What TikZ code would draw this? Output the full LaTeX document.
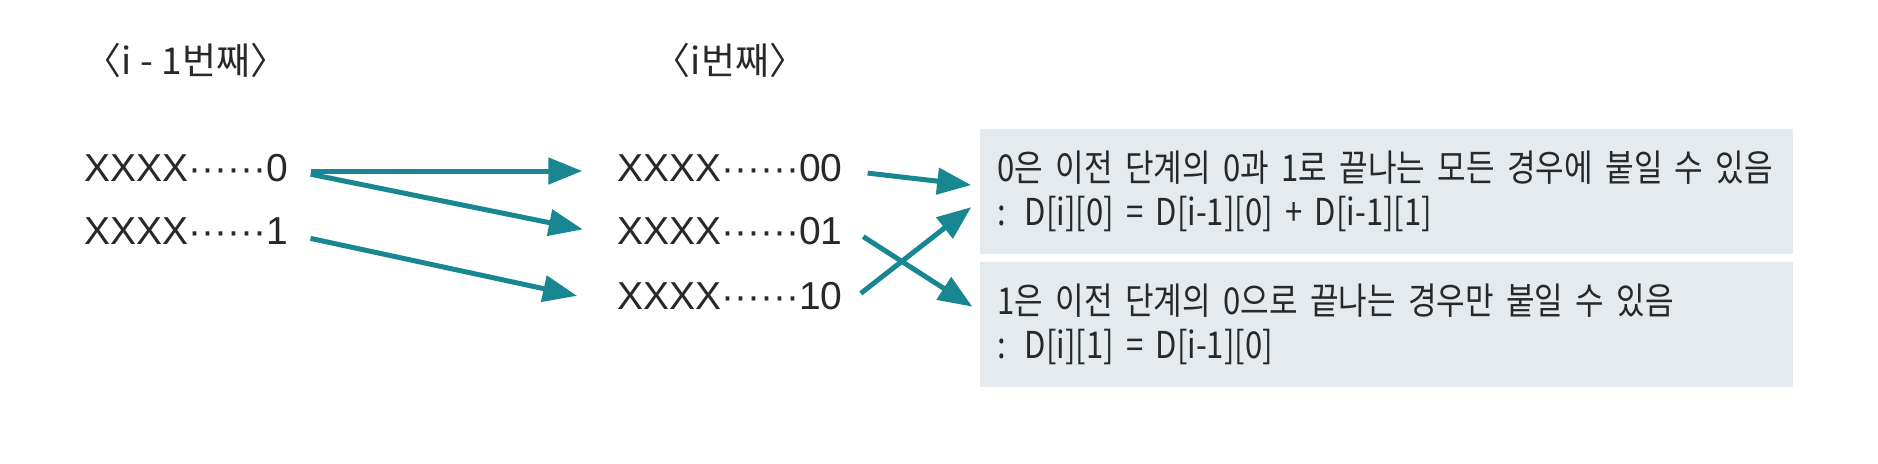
\documentclass[tikz,border=0pt]{standalone}
\usepackage{fontspec}
\setmainfont{Noto Sans CJK KR}
\newfontfamily\kr{Noto Sans CJK KR}[FakeStretch=0.84]
\newfontfamily\seqfont{Liberation Sans}
\usetikzlibrary{arrows.meta,positioning}
\definecolor{arrowteal}{RGB}{25,135,145}
\definecolor{notegray}{RGB}{228,234,237}
\definecolor{inkgray}{RGB}{40,40,40}
\tikzset{
  seq/.style={text=inkgray, font=\seqfont\fontsize{19.5}{24}\selectfont},
  title/.style={text=inkgray, font=\fontsize{18.5}{22}\selectfont},
  note/.style={fill=notegray, text=inkgray, minimum width=406.5pt, minimum height=62.5pt, text width=388.5pt, inner xsep=9pt, align=left, font=\kr\fontsize{18.5}{22}\selectfont},
  link/.style={->, line width=2.5pt, draw=arrowteal}
}
\begin{document}
\begin{tikzpicture}[x=0.5pt,y=0.5pt,node distance=31.5pt,>={Triangle[length=17pt,width=13pt]}]
    \useasboundingbox (0,0) rectangle (1878,463);
    % i-1 column
    \node (prev0) [seq] at (186,295) {XXXX······0};
    \node (prev1) [seq, below of=prev0] {XXXX······1};
    \node (prevt) [title, above of=prev0, node distance=54pt] {〈i - 1번째〉};
    % i column
    \node (cur00) [seq, right of=prev0, node distance=272pt] {XXXX······00};
    \node (cur01) [seq, below of=cur00] {XXXX······01};
    \node (cur10) [seq, below of=cur01, node distance=32.5pt] {XXXX······10};
    \node (curt) [title, above of=cur00, node distance=54pt] {〈i번째〉};
    % notes
    \node (note0) [note] at (1386,271.5) {0은 이전 단계의 0과 1로 끝나는 모든 경우에 붙일 수 있음\\: D[i][0] = D[i-1][0] + D[i-1][1]};
    \node (note1) [note] at (1386,139) {1은 이전 단계의 0으로 끝나는 경우만 붙일 수 있음\\: D[i][1] = D[i-1][0]};
    \draw[link, shorten <=8pt, shorten >=14pt] ([yshift=-1.5pt]prev0.east) -- ([yshift=-1.5pt]cur00.west);
    \draw[link, shorten <=8pt, shorten >=14pt] ([yshift=-1.5pt]prev0.east) -- ([yshift=-2pt]cur01.west);
    \draw[link, shorten <=8pt, shorten >=17pt] ([yshift=-2pt]prev1.east) -- ([yshift=-3.5pt]cur10.west);
    \draw[link, shorten <=9pt, shorten >=4pt] ([yshift=-1.5pt]cur00.east) -- ([yshift=2.75pt]note0.west);
    \draw[link, shorten <=7pt, shorten >=5pt] ([yshift=-3pt]cur10.east) -- ([yshift=-4.75pt]note0.west);
    \draw[link, shorten <=8pt, shorten >=4pt] ([yshift=1.5pt]cur01.east) -- ([yshift=6.5pt]note1.west);
  \end{tikzpicture}
\end{document}
